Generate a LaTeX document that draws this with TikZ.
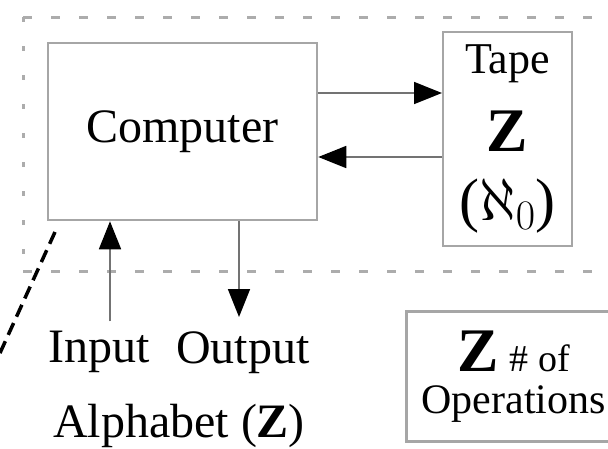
\RequirePackage{fix-cm}
\documentclass[tikz,border=0pt]{standalone}
\usepackage{fontspec}
\setmainfont{Liberation Serif}
\usetikzlibrary{arrows.meta}

\tikzset{
    box/.style={draw=gray!70,line width=2.5pt,inner sep=0pt},
    arr/.style={draw=gray!90!black,line width=1.6pt,-{Triangle[length=28pt,width=22pt,color=black]}},
    region/.style={draw=gray!65,line width=3pt},
    txt/.style={font=\fontsize{48}{52}\selectfont}
}

\begin{document}
\begin{tikzpicture}[x=1pt,y=-1pt]
                \useasboundingbox (0,0) rectangle (608,448);
                \clip (0,0) rectangle (608,448);
                % dashed border of the machine
                \draw[region,dash pattern=on 9pt off 19pt] (23,17) -- (620,17);
                \draw[region,dash pattern=on 5pt off 24pt] (23,17) -- (23,271);
                \draw[region,dash pattern=on 9pt off 19pt] (23,271) -- (620,271);
                % boxes
                \node[box,txt,minimum width=269pt,minimum height=177pt] (computer) at (182.5,131.5) {Computer};
                \node[box,line width=2pt,font=\fontsize{44}{72}\selectfont,minimum width=129pt,minimum height=214pt,align=center] (tape) at (507.5,139)
                    {Tape\\[6pt]{\fontsize{62}{72}\selectfont\textbf{Z}}\\[-3pt]{\fontsize{60}{72}\selectfont(\(\aleph_0\))}};
                \node[box,font=\fontsize{42}{42}\selectfont,minimum width=215pt,minimum height=130pt,anchor=north west,align=center] (ops) at (405,310)
                    {{\fontsize{62}{42}\selectfont\textbf{Z}} {\fontsize{38}{42}\selectfont\# of}\\Operations};
                % labels
                \node[txt,anchor=base,inner sep=0pt] (input) at (99,362) {Input};
                \node[txt,anchor=base,inner sep=0pt] (output) at (243,363) {Output};
                \node[txt,anchor=base,inner sep=0pt] (alphabet) at (179,437) {Alphabet (\textbf{Z})};
                % connectors
                \draw[arr] ([yshift=9pt]input.north -| 110,0) -- (computer.south -| 110,0);
                \draw[arr] (computer.south -| 239,0) -- ([yshift=14pt]output.north -| 239,0);
                \draw[arr] ([yshift=38.5pt]computer.east) -- ([yshift=38.5pt]computer.east -| tape.west);
                \draw[arr] ([yshift=-25.5pt]computer.east -| tape.west) -- ([yshift=-25.5pt]computer.east);
                \draw[line width=3.5pt,dash pattern=on 13pt off 7pt] (55,232) -- (-15,386);
            \end{tikzpicture}
\end{document}
